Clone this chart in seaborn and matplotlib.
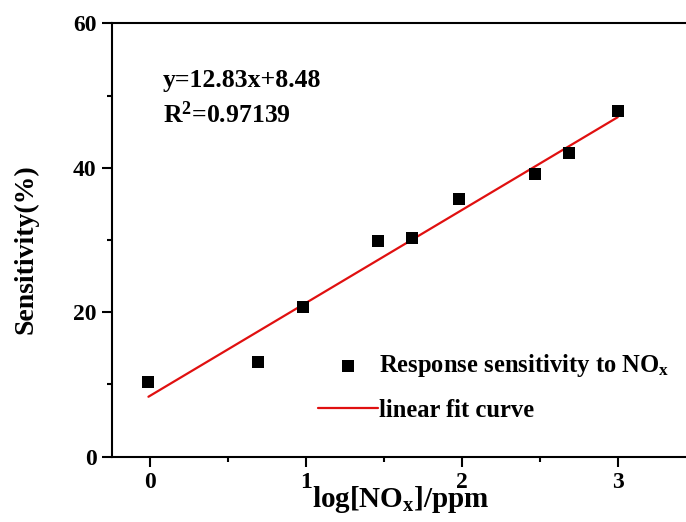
import matplotlib
matplotlib.use('Agg')
import matplotlib.pyplot as plt
import seaborn as sns
import pandas as pd
from matplotlib.ticker import MultipleLocator

# data
log_conc = [-0.01, 0.69, 0.98, 1.46, 1.68, 1.98, 2.47, 2.69, 3.0]
sensitivity = [10.3, 13.1, 20.7, 29.8, 30.3, 35.7, 39.1, 42.1, 47.9]

fit_x = [-0.01, 3.0]
fit_y = [8.3, 47.0]

fit_text = 'y=12.83x+8.48'
r2_text = r'R$^\mathrm{2}$=0.97139'

sns.set_style('ticks')
plt.rcParams['font.family'] = ['Liberation Serif', 'DejaVu Serif']
plt.rcParams['font.weight'] = 'bold'
plt.rcParams['text.color'] = 'black'
plt.rcParams['axes.labelcolor'] = 'black'
plt.rcParams['xtick.color'] = 'black'
plt.rcParams['ytick.color'] = 'black'
plt.rcParams['mathtext.fontset'] = 'custom'
plt.rcParams['mathtext.rm'] = 'Liberation Serif:bold'
plt.rcParams['mathtext.it'] = 'Liberation Serif:bold'
plt.rcParams['mathtext.bf'] = 'Liberation Serif:bold'

df = pd.DataFrame({'x': log_conc, 'y': sensitivity})
fit = pd.DataFrame({'x': fit_x, 'y': fit_y})

fig = plt.figure(figsize=(6.86, 5.22), dpi=100)
ax = fig.add_axes([0.1628, 0.1251, 0.8372, 0.8303])

sns.scatterplot(data=df, x='x', y='y', marker='s', s=75, color='black',
                edgecolor='none', ax=ax, label=r'Response sensitivity to NO$_\mathrm{x}$', zorder=3)
sns.lineplot(data=fit, x='x', y='y', color='#e01010', linewidth=1.6, ax=ax,
             label='linear fit curve', zorder=2)

ax.set_xlim(-0.2457, 3.438)
ax.set_ylim(0, 60)
ax.xaxis.set_major_locator(MultipleLocator(1))
ax.xaxis.set_minor_locator(MultipleLocator(0.5))
ax.yaxis.set_major_locator(MultipleLocator(20))
ax.yaxis.set_minor_locator(MultipleLocator(10))

for side in ['left', 'bottom', 'top']:
    ax.spines[side].set_linewidth(1.5)
    ax.spines[side].set_color('black')
ax.spines['right'].set_visible(False)

ax.tick_params(which='major', direction='out', length=7, width=1.5, labelsize=17, pad=4,
               top=False, right=False, colors='black')
ax.tick_params(which='minor', direction='out', length=3.5, width=1.5, top=False, right=False,
               colors='black')

ax.set_xlabel(r'log[NO$_\mathrm{x}$]/ppm', fontsize=21, fontweight='bold')
ax.set_ylabel('Sensitivity(%)', fontsize=20, fontweight='bold')
ax.xaxis.set_label_coords(0.504, -0.064)
ax.yaxis.set_label_coords(-0.128, 0.48)

ax.text(0.083, 51.2, fit_text, fontsize=18.5, fontweight='bold', va='baseline')
ax.text(0.083, 46.15, r2_text, fontsize=18.5, fontweight='bold', va='baseline')

ax.legend(loc='upper left', bbox_to_anchor=(318 / 686, 1 - 352 / 522),
          bbox_transform=fig.transFigure, frameon=False, fontsize=17.7,
          handlelength=2.45, handletextpad=0.05, labelspacing=0.8,
          borderpad=0, borderaxespad=0)

fig.savefig('out.png', dpi=100)
